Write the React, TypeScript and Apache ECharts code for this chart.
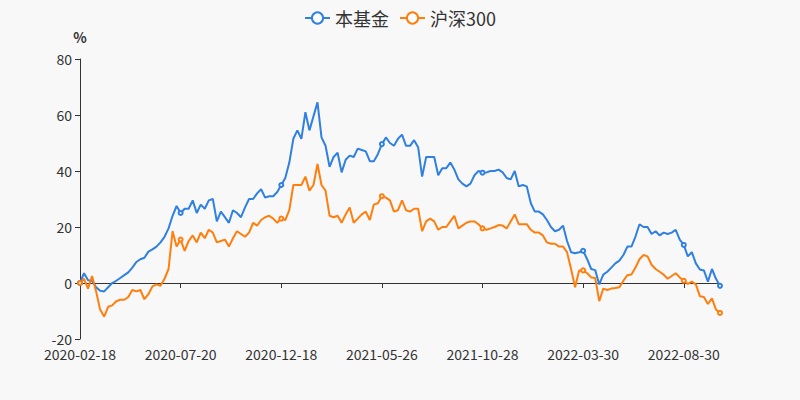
import React, { useEffect, useRef } from 'react';
import * as echarts from 'echarts';

const dates: string[] = [
  '2020-02-18', '2020-02-24', '2020-02-28', '2020-03-05', '2020-03-11', '2020-03-17', '2020-03-23', '2020-03-27', '2020-04-02', '2020-04-10',
  '2020-04-16', '2020-04-22', '2020-04-28', '2020-05-07', '2020-05-13', '2020-05-19', '2020-05-25', '2020-05-29', '2020-06-04', '2020-06-10',
  '2020-06-16', '2020-06-22', '2020-06-30', '2020-07-06', '2020-07-13', '2020-07-20', '2020-07-24', '2020-07-30', '2020-08-05', '2020-08-11',
  '2020-08-17', '2020-08-21', '2020-08-27', '2020-09-02', '2020-09-08', '2020-09-14', '2020-09-18', '2020-09-24', '2020-09-30', '2020-10-13',
  '2020-10-19', '2020-10-23', '2020-10-29', '2020-11-04', '2020-11-10', '2020-11-16', '2020-11-20', '2020-11-26', '2020-12-03', '2020-12-11',
  '2020-12-18', '2020-12-24', '2020-12-30', '2021-01-07', '2021-01-13', '2021-01-19', '2021-01-25', '2021-01-29', '2021-02-04', '2021-02-10',
  '2021-02-22', '2021-02-26', '2021-03-04', '2021-03-10', '2021-03-16', '2021-03-22', '2021-03-26', '2021-04-01', '2021-04-09', '2021-04-15',
  '2021-04-21', '2021-04-27', '2021-05-07', '2021-05-13', '2021-05-19', '2021-05-26', '2021-06-01', '2021-06-07', '2021-06-11', '2021-06-18',
  '2021-06-24', '2021-06-30', '2021-07-06', '2021-07-12', '2021-07-16', '2021-07-22', '2021-07-28', '2021-08-03', '2021-08-09', '2021-08-13',
  '2021-08-19', '2021-08-25', '2021-08-31', '2021-09-06', '2021-09-10', '2021-09-16', '2021-09-24', '2021-09-30', '2021-10-14', '2021-10-20',
  '2021-10-28', '2021-11-03', '2021-11-09', '2021-11-15', '2021-11-19', '2021-11-25', '2021-12-01', '2021-12-07', '2021-12-13', '2021-12-17',
  '2021-12-23', '2021-12-29', '2022-01-06', '2022-01-12', '2022-01-18', '2022-01-24', '2022-02-08', '2022-02-14', '2022-02-18', '2022-02-24',
  '2022-03-02', '2022-03-08', '2022-03-14', '2022-03-18', '2022-03-24', '2022-03-30', '2022-04-07', '2022-04-13', '2022-04-19', '2022-04-25',
  '2022-04-29', '2022-05-10', '2022-05-16', '2022-05-20', '2022-05-26', '2022-06-01', '2022-06-08', '2022-06-14', '2022-06-20', '2022-06-24',
  '2022-06-30', '2022-07-06', '2022-07-12', '2022-07-18', '2022-07-22', '2022-07-28', '2022-08-03', '2022-08-09', '2022-08-16', '2022-08-23',
  '2022-08-30', '2022-09-05', '2022-09-09', '2022-09-16', '2022-09-22', '2022-09-29', '2022-10-12', '2022-10-18', '2022-10-24', '2022-10-28',
];

const fundValues: number[] = [
  0, 3.5, 1, 0.8, -1.5, -2.8, -3, -1.5, 0, 0.8,
  1.8, 2.8, 3.8, 5.5, 7.5, 8.5, 9, 11.2, 12, 13,
  14.5, 16.5, 19.5, 24, 27.5, 25, 26.5, 26.5, 29.5, 25,
  28, 26.5, 29.5, 30, 22, 25.5, 23.5, 21.5, 26, 25,
  23.5, 27, 30, 30, 32, 33.5, 30.5, 31, 31, 32.5,
  35, 37.5, 43, 51.5, 54.5, 51.5, 61, 54.5, 59.5, 64.5,
  52, 49, 41.5, 45, 46.5, 39.5, 44, 45.5, 45, 48,
  47.5, 47, 43.5, 43.5, 46, 49.6, 52, 50, 49, 51.5,
  53, 49, 49, 51, 48.5, 38, 45, 45, 45, 38.5,
  41, 41, 43, 40.5, 37, 35.5, 34.5, 35.5, 38.5, 40,
  39.4, 39.5, 40, 40, 40.5, 39.5, 37.5, 37, 40, 34.5,
  35, 34.5, 28.5, 25.5, 25.5, 24.5, 22.5, 20, 18.5, 19,
  20.5, 15, 11, 10.6, 11, 11.5, 8.5, 5, 4.6, -0.5,
  3, 4, 5.5, 7, 8, 10, 13, 13, 16.6, 21,
  20, 20, 17.5, 18.5, 17, 18, 17.5, 18, 19, 15.5,
  13.6, 9.5, 11, 7, 4.8, 4.5, 0.5, 5, 1.5, -1,
];

const hs300Values: number[] = [
  0, 1.5, -2, 2.5, -3, -9.5, -12, -8.5, -8, -6.5,
  -6, -6, -5, -2.5, -3, -2.5, -5.8, -4, -1.2, -0.5,
  -1, 1.5, 5, 18.5, 13, 15.5, 11.5, 15, 17, 14.5,
  18, 16, 19, 18, 14.5, 15, 15.5, 13, 16, 18.5,
  17.5, 16.5, 18, 21.5, 20.5, 22.5, 23.5, 24, 23, 21.5,
  23, 22.5, 26, 35, 35, 35, 38, 33, 35, 42.5,
  35, 33, 24, 23.5, 24, 21.5, 24.5, 27, 21.5, 23,
  24.5, 25.5, 22.5, 28, 28.5, 31, 30.5, 29.5, 25.5, 26,
  29.5, 26, 25.5, 26.5, 26.5, 18.5, 22, 23, 22, 19,
  20, 20, 22, 24, 19.5, 20.5, 21.5, 22, 22, 21,
  19.5, 19, 19.5, 20, 20.7, 20.5, 19.5, 22, 24.5, 21,
  21, 21, 19, 18, 18, 17, 14.5, 14, 14, 13,
  13, 11, 5, -1.5, 4.5, 4.5, 3.5, 2, 1.8, -6.5,
  -2, -2.5, -2, -1.8, -1.5, 0.8, 2.8, 3, 5.5, 8.5,
  10, 9.5, 6.5, 5, 4, 3, 1.5, 2.5, 3.5, 2,
  0.8, -0.3, 0.5, -0.5, -4.7, -5, -7.5, -5.5, -9.5, -10.7,
];

const seriesNames: string[] = ['本基金', '沪深300'];
const seriesColors: string[] = ['#2f80e0', '#ff7f0e'];
const yMin = -20;
const yMax = 80;
const yStep = 20;

export default function App() {
  const ref = useRef<HTMLDivElement>(null);
  useEffect(() => {
    document.body.style.margin = '0';
    const chart = echarts.init(ref.current!, null, { renderer: 'svg' });
    const font = "'Noto Sans CJK SC', 'Noto Sans', sans-serif";
    const last = dates.length - 1;
    chart.setOption({
      animation: false,
      backgroundColor: '#f8f8f8',
      textStyle: { fontFamily: font },
      legend: {
        top: 4,
        left: 'center',
        itemGap: 10,
        itemWidth: 25,
        itemHeight: 14,
        textStyle: { fontSize: 18, color: '#333', fontFamily: font },
        data: seriesNames,
      },
      grid: { left: 80, right: 80, top: 59, bottom: 61, containLabel: false, outerBoundsMode: 'none' },
      xAxis: {
        type: 'category',
        data: dates,
        boundaryGap: false,
        axisLine: { onZero: true, lineStyle: { color: '#333', width: 1 } },
        axisTick: { show: true, interval: 24, length: 5, lineStyle: { color: '#333' } },
        axisLabel: {
          interval: 24,
          fontSize: 14,
          color: '#333',
          showMaxLabel: true,
          formatter: (v: string, i: number) => (i === last ? '' : v),
        },
        splitLine: { show: false },
      },
      yAxis: {
        type: 'value',
        min: yMin,
        max: yMax,
        interval: yStep,
        name: '%',
        nameGap: 15,
        nameTextStyle: { fontSize: 14, color: '#333', fontWeight: 'bold' },
        axisLine: { show: true, lineStyle: { color: '#333' } },
        axisTick: { show: true, length: 5, lineStyle: { color: '#333' } },
        axisLabel: { fontSize: 14, color: '#333', margin: 8 },
        splitLine: { show: false },
      },
      series: [
        {
          name: seriesNames[0],
          type: 'line',
          data: fundValues,
          symbol: 'emptyCircle',
          symbolSize: 4,
          color: seriesColors[0],
          lineStyle: { width: 2, color: seriesColors[0] },
        },
        {
          name: seriesNames[1],
          type: 'line',
          data: hs300Values,
          symbol: 'emptyCircle',
          symbolSize: 4,
          color: seriesColors[1],
          lineStyle: { width: 2, color: seriesColors[1] },
        },
      ],
    });
    return () => chart.dispose();
  }, []);
  return <div ref={ref} style={{ width: 800, height: 400 }} />;
}
